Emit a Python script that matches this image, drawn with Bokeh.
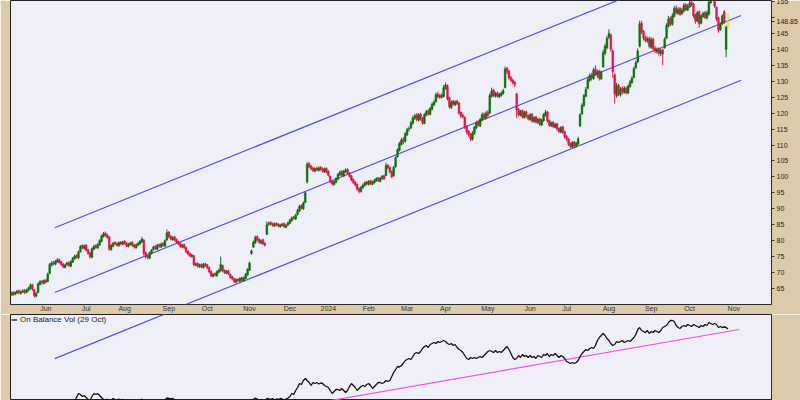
from bokeh.plotting import figure
from bokeh.layouts import column
from bokeh.models import Range1d, FixedTicker, Label, Legend, LegendItem, ColumnDataSource
from bokeh.embed import file_html
from bokeh.resources import INLINE

# ---------------- data (daily bars, 5 May 2023 .. 29 Oct 2024) ----------------
opens = [
 63.0, 63.8, 63.2, 63.6, 64.3, 63.5, 63.9, 64.4, 63.8, 64.4,
 65.0, 66.2, 64.6, 62.6, 63.8, 66.3, 67.3, 66.6, 67.6, 67.2,
 69.8, 72.3, 73.2, 72.6, 73.4, 74.1, 73.4, 72.7, 71.6, 72.5,
 73.2, 72.0, 73.3, 74.4, 75.4, 74.6, 76.6, 78.5, 77.6, 78.6,
 77.2, 76.2, 74.8, 77.3, 78.5, 77.8, 78.7, 79.8, 81.3, 82.4,
 81.8, 81.2, 77.2, 78.3, 79.5, 79.2, 78.4, 79.5, 78.9, 79.8,
 79.3, 78.2, 78.8, 79.5, 78.7, 77.8, 78.6, 79.0, 79.6, 80.2,
 76.3, 75.2, 74.5, 76.0, 77.2, 78.3, 77.3, 78.8, 78.0, 79.2,
 78.3, 80.2, 82.7, 81.4, 80.3, 81.2, 80.4, 79.7, 79.2, 78.0,
 78.8, 77.9, 76.7, 76.0, 75.0, 75.3, 72.3, 72.9, 71.8, 72.6,
 71.6, 72.8, 72.4, 71.6, 70.4, 68.8, 69.7, 69.0, 70.1, 70.6,
 72.2, 70.7, 69.8, 70.6, 69.4, 68.7, 68.1, 67.0, 67.9, 67.3,
 68.4, 67.4, 68.2, 69.3, 70.8, 76.0, 78.0, 79.3, 81.3, 80.5,
 79.2, 80.3, 79.2, 82.0, 85.1, 85.7, 85.3, 84.6, 85.4, 85.2,
 84.4, 84.8, 85.4, 84.2, 84.9, 85.5, 86.3, 87.4, 86.8, 88.2,
 89.3, 91.0, 90.0, 92.0, 98.5, 104.2, 103.4, 102.8, 101.8, 102.8,
 102.0, 103.0, 102.6, 101.6, 102.7, 101.8, 100.2, 98.7, 97.6, 98.3,
 99.3, 100.6, 101.8, 100.3, 101.6, 102.4, 101.2, 100.4, 99.2, 98.4,
 97.7, 96.4, 95.4, 96.6, 97.3, 98.4, 97.6, 98.8, 97.7, 98.2,
 98.8, 99.7, 98.6, 99.4, 100.4, 100.5, 103.7, 103.0, 101.7, 100.4,
 103.2, 106.3, 108.3, 110.2, 111.8, 111.2, 113.2, 115.0, 115.4, 116.8,
 118.4, 119.5, 117.8, 119.7, 118.4, 116.8, 119.3, 120.7, 119.6, 121.2,
 122.6, 123.6, 126.0, 125.0, 125.7, 125.2, 127.8, 128.6, 124.8, 121.8,
 123.8, 122.6, 123.8, 123.2, 120.2, 119.3, 118.6, 115.8, 114.3, 113.4,
 111.8, 113.6, 115.3, 117.3, 116.0, 117.8, 119.7, 118.3, 120.3, 120.0,
 125.3, 127.2, 125.3, 126.4, 125.1, 125.6, 126.2, 128.0, 134.0, 133.2,
 131.2, 130.4, 129.7, 126.0, 121.2, 119.3, 120.8, 118.6, 120.4, 119.2,
 118.0, 119.6, 117.3, 118.8, 117.0, 118.2, 116.3, 117.6, 119.3, 120.4,
 117.7, 116.0, 117.2, 115.6, 116.7, 115.2, 114.0, 115.7, 114.2, 112.7,
 111.9, 110.4, 109.3, 111.0, 109.6, 110.3, 116.0, 119.8, 122.3, 125.3,
 127.8, 130.3, 132.0, 130.8, 133.8, 132.0, 133.2, 130.8, 134.5, 138.8,
 140.5, 143.8, 144.5, 139.5, 132.0, 125.5, 128.8, 125.7, 127.8, 126.5,
 127.9, 126.3, 128.3, 129.6, 131.2, 134.3, 136.0, 141.0, 148.2, 145.7,
 143.8, 142.6, 143.5, 140.7, 143.2, 140.4, 139.2, 140.2, 138.6, 139.8,
 140.5, 143.5, 147.3, 149.8, 147.8, 150.3, 153.0, 151.3, 152.8, 151.2,
 152.0, 154.0, 152.3, 153.3, 154.8, 154.2, 150.8, 148.8, 151.8, 148.2,
 150.3, 151.5, 149.8, 151.0, 154.6, 156.2, 156.8, 153.2, 149.8, 146.2,
 148.0, 151.8, 140.0, 147.2]

highs = [
 64.0, 64.2, 64.1, 64.6, 64.7, 64.4, 64.8, 64.9, 64.9, 65.6,
 66.6, 66.5, 64.9, 63.9, 66.9, 67.6, 67.7, 67.9, 68.0, 70.0,
 73.0, 73.6, 73.7, 74.0, 74.5, 74.4, 73.7, 73.0, 72.8, 73.4,
 73.5, 73.9, 74.9, 75.6, 75.8, 76.9, 78.6, 78.9, 78.8, 78.9,
 77.5, 76.5, 77.9, 78.7, 78.9, 79.2, 80.4, 81.9, 82.7, 82.9,
 82.2, 81.5, 78.9, 79.6, 79.9, 79.5, 79.8, 79.9, 80.0, 80.2,
 79.6, 79.3, 79.7, 79.8, 79.0, 79.1, 79.6, 80.2, 81.2, 80.5,
 76.6, 75.6, 76.6, 77.4, 78.4, 78.6, 79.0, 79.1, 79.4, 79.5,
 80.4, 83.5, 83.0, 81.8, 81.4, 81.5, 80.7, 80.0, 79.5, 79.0,
 79.1, 78.2, 77.0, 76.3, 75.9, 75.5, 73.2, 73.2, 72.8, 72.9,
 73.0, 73.1, 72.7, 71.9, 70.7, 69.9, 70.0, 70.7, 71.2, 75.0,
 72.5, 71.0, 70.8, 70.9, 69.7, 69.0, 68.4, 68.2, 68.2, 68.6,
 68.7, 68.8, 69.9, 71.4, 73.5, 77.2, 80.0, 81.6, 81.7, 80.9,
 80.4, 80.6, 79.5, 86.0, 86.0, 86.1, 85.7, 85.7, 85.8, 85.5,
 85.3, 85.6, 85.7, 85.2, 86.0, 86.9, 87.6, 87.8, 88.5, 90.0,
 91.3, 91.4, 92.3, 95.4, 104.6, 104.6, 103.8, 103.2, 103.0, 103.2,
 103.3, 103.4, 103.0, 102.9, 103.0, 102.1, 100.5, 99.0, 98.9, 99.9,
 101.2, 102.0, 102.1, 102.2, 102.7, 102.7, 101.5, 100.7, 99.5, 98.7,
 98.0, 96.7, 97.2, 97.9, 98.6, 98.8, 99.0, 99.1, 98.8, 99.4,
 99.9, 100.0, 100.0, 100.6, 100.7, 104.5, 104.0, 103.3, 102.0, 103.4,
 106.5, 109.0, 111.0, 112.2, 112.5, 114.0, 115.4, 115.8, 117.6, 119.2,
 119.8, 120.0, 120.0, 120.1, 118.8, 120.0, 121.0, 121.2, 122.0, 123.3,
 124.2, 126.5, 126.6, 126.0, 126.2, 128.8, 129.6, 129.0, 125.2, 124.0,
 124.2, 124.0, 124.2, 123.5, 120.6, 119.8, 119.0, 116.2, 114.7, 113.8,
 114.3, 116.0, 117.6, 117.8, 118.5, 120.2, 120.2, 120.6, 121.0, 126.2,
 128.0, 127.6, 126.7, 126.8, 126.3, 126.8, 127.6, 134.6, 134.5, 133.5,
 131.6, 130.8, 130.1, 126.4, 121.6, 121.0, 121.2, 120.7, 120.8, 119.6,
 120.0, 120.0, 119.0, 119.1, 118.5, 118.5, 118.2, 120.0, 121.0, 120.7,
 118.0, 117.4, 117.5, 116.9, 117.0, 115.6, 115.9, 116.0, 114.5, 113.1,
 112.2, 110.8, 111.2, 111.3, 111.0, 112.6, 120.0, 123.1, 126.0, 128.2,
 131.2, 132.4, 132.6, 134.2, 135.0, 133.6, 133.6, 133.4, 139.8, 141.8,
 144.2, 146.3, 145.0, 140.0, 132.5, 129.5, 129.2, 128.2, 128.4, 128.5,
 128.3, 129.0, 130.4, 131.6, 134.6, 136.5, 140.3, 149.0, 149.0, 146.0,
 144.3, 144.0, 144.0, 143.8, 143.6, 141.0, 140.6, 140.6, 140.2, 140.3,
 143.8, 148.2, 150.5, 150.3, 151.3, 153.6, 153.8, 153.2, 153.3, 153.0,
 154.5, 154.5, 154.2, 155.2, 155.5, 154.6, 151.2, 152.0, 152.2, 151.0,
 151.8, 152.0, 152.2, 155.5, 157.3, 158.0, 157.2, 153.5, 150.2, 148.5,
 151.0, 152.3, 147.4, 151.3]

lows = [
 62.6, 62.7, 62.9, 63.3, 63.2, 63.1, 63.6, 63.3, 63.5, 64.1,
 64.7, 64.3, 62.2, 62.3, 63.5, 66.0, 66.3, 66.3, 66.6, 67.0,
 69.5, 71.9, 72.3, 72.3, 73.0, 72.8, 72.1, 71.4, 71.3, 72.1,
 71.8, 71.7, 73.0, 74.0, 74.4, 74.3, 76.3, 77.4, 77.2, 76.6,
 75.6, 74.4, 74.5, 77.0, 77.5, 77.4, 78.4, 79.5, 81.0, 81.2,
 80.6, 76.8, 76.9, 78.0, 78.6, 78.2, 78.1, 78.6, 78.6, 78.7,
 78.0, 77.9, 78.5, 78.1, 77.6, 77.5, 78.3, 78.7, 79.3, 75.3,
 74.4, 74.2, 74.2, 75.7, 76.9, 77.1, 77.0, 77.8, 77.7, 78.1,
 78.0, 80.0, 80.8, 80.1, 80.0, 79.8, 79.1, 78.6, 77.8, 77.7,
 77.4, 76.1, 75.4, 74.8, 74.7, 72.0, 72.0, 71.6, 71.5, 71.4,
 71.3, 71.8, 71.1, 69.8, 68.6, 68.5, 68.8, 68.7, 69.8, 70.3,
 70.1, 69.6, 69.5, 69.2, 68.1, 67.6, 66.8, 66.7, 67.1, 67.0,
 67.2, 67.1, 67.9, 69.0, 70.5, 75.6, 77.7, 79.0, 79.8, 79.1,
 78.9, 78.6, 78.2, 81.8, 84.7, 84.8, 84.4, 84.3, 84.6, 84.2,
 84.1, 84.5, 84.0, 83.9, 84.6, 85.2, 86.0, 86.6, 86.5, 87.9,
 89.0, 89.8, 89.7, 91.8, 98.0, 102.8, 102.1, 101.6, 101.5, 101.8,
 101.7, 102.0, 101.4, 101.3, 101.1, 100.1, 98.0, 97.3, 97.3, 98.0,
 99.0, 100.3, 100.1, 100.0, 101.3, 100.6, 99.8, 98.6, 97.8, 97.0,
 95.7, 94.8, 95.1, 96.3, 97.0, 97.4, 97.3, 97.5, 97.4, 97.9,
 98.5, 98.4, 98.3, 99.1, 99.0, 100.2, 102.4, 101.1, 99.6, 100.1,
 102.9, 106.0, 108.0, 109.8, 110.2, 110.8, 112.8, 114.2, 115.0, 116.4,
 117.9, 117.5, 117.4, 117.6, 116.4, 116.5, 119.0, 119.3, 119.3, 120.9,
 122.2, 123.3, 124.7, 124.5, 124.5, 124.9, 127.3, 124.0, 121.4, 121.3,
 122.3, 122.2, 122.5, 119.5, 118.5, 118.3, 115.0, 113.4, 112.6, 111.2,
 111.4, 113.2, 115.0, 115.8, 115.6, 117.4, 118.0, 118.0, 118.8, 119.8,
 124.9, 125.0, 124.9, 124.9, 124.7, 125.2, 125.8, 127.8, 132.2, 130.5,
 129.8, 129.0, 128.2, 118.5, 119.0, 119.0, 118.3, 118.3, 118.5, 117.7,
 117.6, 117.0, 117.0, 116.8, 116.6, 116.0, 115.9, 117.3, 118.9, 117.0,
 115.7, 115.6, 115.3, 115.2, 114.5, 113.7, 113.7, 113.5, 112.0, 111.2,
 109.7, 109.0, 109.0, 109.3, 109.3, 110.0, 115.7, 119.5, 122.0, 125.0,
 127.5, 129.8, 130.2, 130.5, 131.6, 131.0, 130.2, 130.4, 134.2, 138.2,
 140.0, 143.2, 139.2, 131.0, 123.0, 124.8, 125.3, 125.2, 126.0, 126.0,
 125.9, 126.0, 128.0, 129.2, 130.9, 133.8, 135.7, 140.6, 144.8, 142.8,
 142.2, 142.0, 140.3, 140.2, 139.5, 138.8, 138.6, 138.0, 137.8, 135.0,
 140.2, 143.2, 146.8, 147.3, 147.4, 150.0, 150.9, 150.8, 150.4, 150.8,
 151.6, 152.0, 152.0, 153.0, 153.4, 149.8, 148.0, 148.5, 146.8, 147.8,
 149.8, 149.5, 149.4, 150.6, 154.2, 155.6, 153.0, 148.8, 145.2, 145.8,
 147.6, 147.9, 137.5, 146.6]

closes = [
 63.5, 63.0, 63.8, 64.2, 63.6, 64.0, 64.3, 63.7, 64.5, 65.2,
 66.0, 64.8, 62.8, 63.5, 66.5, 67.2, 66.8, 67.5, 67.0, 69.5,
 72.5, 73.0, 72.8, 73.5, 74.0, 73.2, 72.5, 71.8, 72.4, 73.0,
 72.2, 73.5, 74.5, 75.2, 74.8, 76.5, 78.2, 77.8, 78.4, 77.0,
 76.0, 75.0, 77.5, 78.3, 77.9, 78.8, 80.0, 81.5, 82.2, 81.6,
 81.0, 77.5, 78.5, 79.2, 79.0, 78.6, 79.4, 79.0, 79.6, 79.1,
 78.4, 78.9, 79.3, 78.5, 78.0, 78.7, 79.2, 79.8, 80.5, 76.0,
 75.0, 74.8, 76.2, 77.0, 78.0, 77.5, 78.6, 78.2, 79.0, 78.5,
 80.0, 82.5, 81.2, 80.5, 81.0, 80.2, 79.5, 79.0, 78.2, 78.6,
 77.8, 76.5, 75.8, 75.2, 75.5, 72.5, 72.8, 72.0, 72.4, 71.8,
 72.6, 72.2, 71.5, 70.2, 69.0, 69.5, 69.2, 70.3, 70.8, 72.5,
 70.5, 70.0, 70.4, 69.6, 68.5, 68.0, 67.2, 67.8, 67.5, 68.2,
 67.6, 68.4, 69.5, 71.0, 73.0, 76.8, 79.5, 81.0, 80.2, 79.5,
 80.0, 79.0, 78.6, 85.0, 85.5, 85.2, 84.8, 85.3, 85.0, 84.6,
 84.9, 85.2, 84.4, 84.8, 85.6, 86.5, 87.2, 87.0, 88.0, 89.5,
 90.8, 90.2, 91.8, 95.0, 104.0, 103.2, 102.5, 102.0, 102.6, 102.2,
 102.8, 102.4, 101.8, 102.5, 101.5, 100.5, 98.5, 97.8, 98.5, 99.5,
 100.8, 101.5, 100.5, 101.8, 102.2, 101.0, 100.2, 99.0, 98.2, 97.5,
 96.2, 95.5, 96.8, 97.5, 98.2, 97.8, 98.6, 97.9, 98.4, 99.0,
 99.5, 98.8, 99.6, 100.2, 99.4, 103.5, 102.8, 101.5, 100.0, 103.0,
 106.0, 108.5, 110.5, 111.5, 111.0, 113.5, 114.8, 115.2, 117.0, 118.5,
 119.2, 118.0, 119.5, 118.2, 117.0, 119.5, 120.5, 119.8, 121.5, 122.8,
 123.5, 125.8, 125.2, 125.5, 125.0, 128.0, 128.8, 124.5, 122.0, 123.5,
 122.8, 123.5, 123.0, 120.0, 119.0, 118.8, 115.5, 114.0, 113.2, 112.0,
 113.8, 115.5, 117.0, 116.2, 118.0, 119.5, 118.5, 120.0, 119.2, 125.5,
 127.0, 125.5, 126.2, 125.3, 125.8, 126.3, 127.0, 133.8, 133.0, 131.0,
 130.2, 129.5, 129.0, 121.0, 119.5, 120.5, 118.8, 120.2, 119.0, 118.2,
 119.5, 117.5, 118.6, 117.2, 118.0, 116.5, 117.8, 119.5, 120.2, 117.5,
 116.2, 117.0, 115.8, 116.5, 115.0, 114.2, 115.5, 114.0, 112.5, 111.8,
 110.2, 109.5, 110.8, 109.8, 110.5, 112.0, 119.5, 122.5, 125.5, 127.5,
 130.5, 131.8, 131.0, 133.5, 132.2, 133.0, 131.0, 132.8, 139.0, 141.0,
 143.5, 145.0, 140.0, 133.0, 126.0, 128.5, 126.0, 127.5, 126.8, 127.8,
 126.5, 128.5, 129.8, 131.0, 134.0, 135.8, 139.5, 148.0, 145.5, 143.5,
 142.8, 143.2, 141.0, 143.0, 140.2, 139.5, 140.0, 138.8, 139.6, 138.5,
 143.2, 147.5, 149.5, 148.0, 150.5, 152.8, 151.5, 152.5, 151.0, 152.2,
 153.8, 152.5, 153.5, 154.5, 154.0, 150.5, 149.0, 151.5, 148.0, 150.5,
 151.2, 150.0, 151.5, 154.8, 156.5, 157.0, 153.5, 149.5, 146.0, 147.8,
 150.5, 148.5, 147.0, 148.85]

# On Balance Volume (arbitrary units, millions)
obv = [
 -40, -38, -39, -36, -37, -35, -34, -36, -33, -30,
 -27, -29, -34, -32, -25, -22, -24, -20, -22, -16,
 -10, -8, -9, -6, -4, -6, -8, -11, -9, -7,
 -9, -5, -2, 0, 6, 14, 12, 8, 10, 6,
 2, 0, 8, 14, 12, 14, 10, 6, 2, 0,
 3, -4, 0, 4, 2, 0, 3, 1, 2, 0,
 -2, -1, 1, -3, -5, -3, -1, 1, 3, -6,
 -9, -10, -6, -4, -2, -4, -1, -3, 0, -2,
 1, 5, 4, 3, 4, 2, 0, -2, -5, -3,
 -6, -9, -11, -13, -11, -16, -14, -17, -15, -18,
 -15, -17, -20, -23, -26, -24, -26, -22, -19, -14,
 -18, -21, -19, -22, -25, -27, -30, -27, -29, -26,
 -28, -25, -20, -14, -8, -2, 2, 5, 3, 0,
 2, -1, -3, 4, 3, 2, 4, 1, 3, 2,
 4, 3, 1, 3, 5, 8, 14, 12, 20, 26,
 34, 32, 40, 44, 40, 36, 30, 36, 34, 36,
 33, 35, 34, 30, 28, 26, 20, 14, 18, 22,
 22, 20, 24, 20, 16, 20, 28, 34, 30, 26,
 20, 24, 28, 30, 28, 32, 34, 30, 24, 28,
 32, 36, 36, 34, 36, 40, 38, 40, 48, 56,
 62, 68, 67, 70, 74, 80, 82, 84, 82, 88,
 94, 96, 94, 98, 104, 108, 110, 106, 112, 114,
 116, 114, 118, 116, 118, 120, 118, 114, 112, 114,
 110, 112, 106, 102, 100, 96, 90, 84, 82, 86,
 84, 86, 84, 86, 88, 86, 90, 94, 98, 100,
 98, 96, 100, 96, 98, 96, 100, 104, 108, 102,
 94, 86, 82, 84, 90, 86, 92, 88, 90, 86,
 90, 86, 88, 84, 90, 88, 86, 92, 90, 94,
 88, 92, 90, 94, 90, 86, 90, 88, 84, 78,
 76, 74, 76, 74, 76, 80, 88, 94, 98, 102,
 100, 104, 106, 104, 110, 120, 126, 130, 134, 130,
 124, 120, 114, 110, 112, 118, 116, 118, 120, 116,
 118, 120, 118, 122, 126, 132, 142, 146, 140, 138,
 136, 140, 134, 138, 136, 140, 138, 136, 140, 146,
 148, 150, 156, 160, 160, 158, 150, 146, 144, 148,
 150, 148, 152, 150, 148, 152, 150, 148, 146, 150,
 148, 152, 150, 156, 154, 152, 154, 152, 146, 148,
 146, 147, 146, 143]

# month ticks (bar index of first trading day of each month) and labels
month_ticks = [19, 40, 60, 83, 103, 125, 146, 166, 187, 207, 227, 249, 271, 290, 312, 334, 354, 377]
month_labels = ["Jun", "Jul", "Aug", "Sep", "Oct", "Nov", "Dec", "2024", "Feb", "Mar",
                "Apr", "May", "Jun", "Jul", "Aug", "Sep", "Oct", "Nov"]
price_ticks = [65, 70, 75, 80, 85, 90, 95, 100, 105, 110, 115, 120, 125, 130, 135, 140, 145, 150, 155]

# trend channel (bar index, price) and OBV trendline (bar index, OBV)
channel_x = [23.65, 380.8]
channel_upper = [84.06, 171.0]
channel_mid = [63.75, 150.6]
channel_lower = [43.4, 130.3]
obv_trend_x = [160.0, 379.8]
obv_trend_y = [-5.0, 142.0]
last_close = 148.85

# ---------------- styling ----------------
TAN = "#dccaaa"
BG = "#efeff7"
GREEN = "#0a720a"
LGREEN = "#8cc48c"
RED = "#e0164a"
PINK = "#f0a4bc"
BLUE = "#4d4dff"
MAGENTA = "#f050f0"
FONT = "Liberation Sans"

n = len(closes)
assert len(opens) == n and len(highs) == n and len(lows) == n and len(obv) == n
bars = list(range(1, n + 1))
body_top = [max(o, c) for o, c in zip(opens, closes)]
body_bot = [min(o, c) for o, c in zip(opens, closes)]
colors = []
for k in range(n):
    prev = closes[k - 1] if k > 0 else opens[k]
    body_up = closes[k] >= opens[k]
    day_up = closes[k] >= prev
    if body_up:
        colors.append(GREEN if (day_up or closes[k] - opens[k] > 3) else LGREEN)
    else:
        colors.append(RED if not day_up else PINK)
lines = list(colors)
colors[-1] = "#ffff40"
lines[-1] = "#d6d600"
src = ColumnDataSource(dict(x=bars, h=highs, l=lows, top=body_top, bot=body_bot, color=colors, lc=lines))

p = figure(width=800, height=314, x_range=Range1d(0.62, 396.6), y_range=Range1d(60.0, 155.3125),
           output_backend="svg", toolbar_location=None, y_axis_location="right",
           min_border_left=10, min_border_right=25, min_border_top=0, min_border_bottom=9,
           background_fill_color=BG, border_fill_color=TAN)
p.grid.visible = False
p.outline_line_color = "#222222"

p.line(channel_x, channel_upper, color=BLUE, line_width=1.2)
p.line(channel_x, channel_mid, color=BLUE, line_width=1.2)
p.line(channel_x, channel_lower, color=BLUE, line_width=1.2)

p.segment(x0="x", y0="h", x1="x", y1="l", color="lc", line_width=1, source=src)
p.vbar(x="x", width=0.85, top="top", bottom="bot", fill_color="color", line_color="lc",
       line_width=0.6, source=src)

# right price axis; the last close is shown as its own tick label (it covers the 150 label)
yax = p.yaxis[0]
yax.ticker = FixedTicker(ticks=price_ticks + [last_close])
yax.major_label_overrides = {150: "", last_close: f"{last_close:.2f}"}
yax.major_label_text_font = FONT
yax.major_label_text_font_size = "7px"
yax.major_label_text_color = "#222222"
yax.major_tick_out = 3
yax.major_tick_in = 0
yax.minor_tick_out = 0
yax.minor_tick_in = 0
yax.major_label_standoff = 2
yax.axis_line_color = "#333333"
yax.axis_line_dash = "1 1"
yax.major_tick_line_color = "#333333"

xax = p.xaxis[0]
xax.ticker = FixedTicker(ticks=month_ticks)
xax.major_label_overrides = {t: lab for t, lab in zip(month_ticks, month_labels)}
xax.major_label_text_font = FONT
xax.major_label_text_font_size = "7px"
xax.major_label_text_color = "#333333"
xax.major_tick_out = 0
xax.major_tick_in = 0
xax.minor_tick_out = 0
xax.minor_tick_in = 0
xax.major_label_standoff = 0
xax.axis_line_color = "#333333"
xax.axis_line_dash = "1 1"

# bold year label drawn over the plain axis label
for t, lab in zip(month_ticks, month_labels):
    if lab == "2024":
        p.add_layout(Label(x=t, y=58.6, text=lab, text_align="center", text_baseline="middle",
                           text_font=FONT, text_font_size="7px", text_font_style="bold",
                           text_color="#222222", level="overlay"))

q = figure(width=800, height=86, x_range=p.x_range, y_range=Range1d(0, 172),
           output_backend="svg", toolbar_location=None, x_axis_location=None, y_axis_location="right",
           min_border_left=10, min_border_right=25, min_border_top=0, min_border_bottom=0,
           background_fill_color=BG, border_fill_color=TAN)
q.extra_y_ranges = {"price": Range1d(30.31, 57.19)}
q.grid.visible = False
q.outline_line_color = "#222222"
q.line(channel_x, channel_lower, color=BLUE, line_width=1.2, y_range_name="price")
q.line(obv_trend_x, obv_trend_y, color=MAGENTA, line_width=1.2)
obv_r = q.line(bars, obv, color="#111111", line_width=1.3)

qax = q.yaxis[0]
qax.ticker = FixedTicker(ticks=[])
qax.major_tick_out = 0
qax.major_tick_in = 0
qax.minor_tick_out = 0
qax.minor_tick_in = 0
qax.axis_line_color = "#333333"
qax.axis_line_dash = "1 1"

leg = Legend(items=[LegendItem(label="On Balance Vol (29 Oct)", renderers=[obv_r])],
             location="top_left", margin=1, padding=0, spacing=0,
             glyph_width=6, glyph_height=7, label_height=7, label_standoff=3,
             label_text_font=FONT, label_text_font_size="8px", label_text_color="#222222",
             border_line_color=None, background_fill_alpha=0)
q.add_layout(leg)

layout = column(p, q, spacing=0)

open("out.html", "w").write(file_html(layout, INLINE))
